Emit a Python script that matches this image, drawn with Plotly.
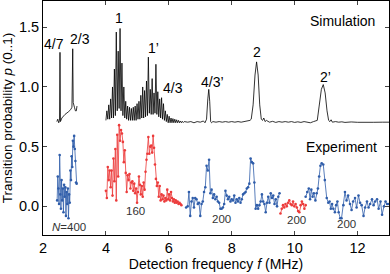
import plotly.graph_objects as go

# ---------------- Simulation (offset curve) ----------------
sim_a_f = [2.44, 2.47, 2.50, 2.525, 2.54, 2.555, 2.60, 2.70, 2.80, 2.88, 2.92, 2.945, 2.96, 2.975, 3.00, 3.03, 3.06, 3.08]
sim_a_p = [0.71, 0.73, 0.70, 0.72, 1.29, 0.71, 0.74, 0.77, 0.79, 0.81, 0.83, 1.32, 0.87, 0.84, 0.83, 0.80, 0.80, 0.84]

sim_b_f = [4.00, 4.03, 4.06, 4.09, 4.12, 4.15, 4.18, 4.21, 4.24, 4.27, 4.30, 4.33, 4.36, 4.39, 4.42,
           4.45, 4.48, 4.51, 4.54, 4.57, 4.60, 4.63, 4.66, 4.69, 4.72, 4.75, 4.78, 4.81, 4.84, 4.87,
           4.90, 4.93, 4.96, 4.99, 5.02, 5.05, 5.08, 5.11, 5.14, 5.17, 5.20, 5.23, 5.26, 5.29, 5.32,
           5.35, 5.38, 5.41, 5.44, 5.47, 5.50, 5.53, 5.56, 5.59, 5.62, 5.65, 5.68, 5.71, 5.74, 5.77,
           5.80, 5.83, 5.86, 5.89, 5.92, 5.95, 5.98, 6.01, 6.04, 6.07, 6.10, 6.13, 6.16, 6.19, 6.22,
           6.25, 6.28, 6.31, 6.34, 6.37, 6.40, 6.43, 6.46, 6.49,
           6.60, 6.70, 6.80, 6.90, 7.00, 7.10, 7.15, 7.20, 7.24, 7.27, 7.30, 7.33, 7.36, 7.40, 7.50,
           7.60, 7.70, 7.80, 7.90, 8.00, 8.10, 8.20, 8.30, 8.40, 8.50, 8.58, 8.62, 8.68, 8.74, 8.79,
           8.84, 8.89, 8.94, 8.98, 9.02, 9.06, 9.10, 9.20, 9.30, 9.40, 9.50, 9.60, 9.70, 9.80, 9.90,
           10.00, 10.10, 10.20, 10.30, 10.40, 10.50, 10.60, 10.68, 10.72, 10.78, 10.85, 10.91, 10.97, 11.03, 11.08,
           11.12, 11.16, 11.20, 11.30, 11.40, 11.50, 11.60, 11.80, 12.00, 12.20, 12.50, 12.80, 13.00]
sim_b_p = [0.72, 0.80, 0.73, 0.85, 0.73, 0.90, 0.74, 1.00, 0.74, 1.15, 0.76, 1.46, 0.80, 1.30, 0.82,
           1.49, 0.80, 1.20, 0.76, 1.00, 0.74, 0.88, 0.73, 0.84, 0.72, 0.83, 0.72, 0.82, 0.72, 0.83,
           0.72, 0.84, 0.72, 0.86, 0.73, 0.88, 0.73, 0.93, 0.74, 1.00, 0.74, 0.97, 0.75, 1.05, 0.76,
           1.25, 0.78, 0.98, 0.77, 1.07, 0.77, 0.95, 0.78, 1.19, 0.77, 0.96, 0.75, 0.90, 0.74, 0.91,
           0.73, 0.86, 0.72, 0.80, 0.71, 0.77, 0.70, 0.755, 0.70, 0.74, 0.70, 0.735, 0.70, 0.73, 0.70,
           0.725, 0.70, 0.72, 0.70, 0.715, 0.70, 0.712, 0.702, 0.71,
           0.705, 0.71, 0.70, 0.71, 0.705, 0.715, 0.70, 0.73, 0.90, 0.98, 0.88, 0.71, 0.70, 0.71, 0.705,
           0.71, 0.705, 0.71, 0.705, 0.71, 0.705, 0.71, 0.705, 0.71, 0.72, 0.72, 0.73, 0.85, 1.10, 1.21,
           1.10, 0.85, 0.73, 0.72, 0.74, 0.71, 0.72, 0.705, 0.712, 0.703, 0.71, 0.705, 0.71, 0.705, 0.71,
           0.703, 0.708, 0.703, 0.71, 0.705, 0.70, 0.71, 0.72, 0.72, 0.84, 0.98, 1.02, 0.95, 0.80, 0.72,
           0.71, 0.725, 0.705, 0.71, 0.705, 0.708, 0.703, 0.707, 0.704, 0.706, 0.704, 0.705, 0.705]

# ---------------- Experiment ----------------
exp1_f = [2.45, 2.47, 2.49, 2.51, 2.53, 2.55, 2.57, 2.59, 2.61, 2.63, 2.65, 2.67, 2.69, 2.71, 2.73, 2.75,
          2.77, 2.79, 2.81, 2.83, 2.85, 2.87, 2.89, 2.91, 2.93, 2.95, 2.97, 2.99, 3.01, 3.03, 3.05, 3.07]
exp1_p = [0.05, 0.25, 0.15, 0.02, 0.43, 0.10, -0.02, 0.22, 0.05, 0.15, -0.05, 0.18, 0.08, 0.16, -0.08, 0.12,
          0.02, 0.15, -0.10, 0.10, 0.03, 0.30, 0.22, 0.42, 0.33, 0.55, 0.50, 0.59, 0.48, 0.38, 0.20, 0.19]

exp2_f = [4.00, 4.03, 4.06, 4.09, 4.12, 4.15, 4.18, 4.21, 4.24, 4.27, 4.30, 4.33, 4.36, 4.39, 4.42, 4.45,
          4.48, 4.51, 4.54, 4.57, 4.60, 4.63, 4.66, 4.69, 4.72, 4.75, 4.78, 4.81, 4.84, 4.87, 4.90, 4.93,
          4.96, 4.99, 5.02, 5.05, 5.08, 5.11, 5.14, 5.17, 5.20, 5.23, 5.26, 5.29, 5.32, 5.35, 5.38, 5.41,
          5.44, 5.47, 5.50, 5.53, 5.56, 5.59, 5.62, 5.65, 5.68, 5.71, 5.74, 5.77, 5.80, 5.83, 5.86, 5.89,
          5.92, 5.95, 5.98, 6.01, 6.04, 6.07, 6.10, 6.13, 6.16, 6.19, 6.22, 6.25, 6.28, 6.31, 6.34, 6.37, 6.40]
exp2_p = [0.13, 0.07, 0.33, 0.22, 0.30, 0.16, 0.30, 0.09, 0.40, 0.21, 0.48, 0.05, 0.60, 0.25, 0.68, 0.55,
          0.64, 0.61, 0.54, 0.37, 0.47, 0.28, 0.12, 0.26, 0.22, 0.27, 0.15, 0.20, 0.21, 0.13, 0.19, 0.11,
          0.15, 0.03, 0.12, 0.25, 0.18, 0.10, 0.17, 0.08, 0.20, 0.14, 0.29, 0.39, 0.44, 0.58, 0.44, 0.50,
          0.51, 0.45, 0.59, 0.49, 0.35, 0.23, 0.17, 0.20, 0.08, 0.17, 0.05, 0.10, 0.06, 0.09, 0.04, 0.07,
          0.05, 0.14, 0.06, 0.10, 0.05, 0.12, 0.07, 0.04, 0.06, 0.03, 0.05, 0.03, 0.04, 0.02, 0.03, 0.02, 0.01]

exp3_f = [6.55, 6.60, 6.64, 6.68, 6.72, 6.76, 6.80, 6.84, 6.88, 6.92, 6.96, 7.00, 7.04, 7.08, 7.12, 7.16,
          7.20, 7.24, 7.28, 7.32, 7.36, 7.40, 7.44, 7.48, 7.52, 7.56, 7.60, 7.64, 7.68, 7.72, 7.76, 7.80,
          7.84, 7.88, 7.92, 7.96, 8.00, 8.04, 8.08, 8.12, 8.16, 8.20, 8.24, 8.28, 8.32, 8.36, 8.40, 8.44,
          8.48, 8.52, 8.56, 8.60, 8.64, 8.68, 8.72, 8.76, 8.80, 8.84, 8.88, 8.92, 8.96, 9.00, 9.04, 9.08,
          9.12, 9.16, 9.20, 9.24, 9.28, 9.32, 9.36, 9.40, 9.44, 9.48, 9.52]
exp3_p = [-0.01, 0.00, 0.12, -0.08, 0.04, 0.07, -0.01, 0.07, 0.06, 0.02, 0.03, -0.08, 0.02, 0.04, 0.12, 0.16,
          0.34, 0.30, 0.39, 0.11, 0.14, 0.07, 0.10, 0.06, 0.08, 0.04, 0.03, -0.02, -0.02, -0.01, 0.02, 0.13,
          0.09, 0.06, 0.08, 0.04, 0.06, 0.05, 0.09, 0.03, 0.06, 0.04, 0.07, 0.03, 0.06, 0.10, 0.11, 0.12,
          0.15, 0.16, 0.19, 0.40, 0.37, 0.36, 0.20, -0.02, 0.01, -0.02, 0.01, 0.04, 0.10, 0.04, 0.02, -0.05,
          0.03, 0.08, 0.03, 0.11, 0.07, 0.09, 0.02, 0.06, 0.00, 0.08, 0.11]

exp4_f = [9.55, 9.59, 9.63, 9.67, 9.71, 9.75, 9.79, 9.83, 9.87, 9.91, 9.95, 9.99, 10.03, 10.07, 10.11,
          10.15, 10.19, 10.23, 10.27, 10.31, 10.35]
exp4_p = [-0.06, -0.02, 0.01, -0.01, 0.02, 0.00, 0.03, 0.05, 0.02, 0.01, 0.04, 0.00, 0.02, -0.01, -0.04,
          -0.05, 0.01, 0.04, 0.02, -0.02, 0.01]

exp5_f = [10.35, 10.40, 10.45, 10.49, 10.53, 10.57, 10.61, 10.66, 10.70, 10.74, 10.78, 10.82, 10.86, 10.91,
          10.96, 11.02, 11.07, 11.11, 11.15, 11.19, 11.23, 11.28, 11.32, 11.36, 11.40, 11.45, 11.49, 11.55,
          11.60, 11.65, 11.70, 11.76, 11.81, 11.86, 11.92, 11.97, 12.03, 12.08, 12.13, 12.19, 12.24, 12.30,
          12.35, 12.40, 12.46, 12.51, 12.56, 12.62, 12.67, 12.73, 12.78, 12.84, 12.89, 12.94, 13.00]
exp5_p = [0.08, 0.12, 0.15, 0.06, 0.14, 0.08, 0.11, 0.05, 0.11, 0.15, 0.25, 0.34, 0.36, 0.35,
          0.22, 0.07, 0.03, 0.04, -0.02, 0.02, -0.02, -0.05, 0.01, 0.04, -0.05, -0.10, -0.10, 0.01,
          0.12, 0.05, 0.09, 0.02, -0.03, 0.04, 0.07, -0.01, 0.09, 0.03, 0.01, -0.08, -0.01, 0.04,
          -0.01, 0.02, 0.06, 0.01, 0.04, 0.06, -0.02, 0.04, -0.07, 0.00, 0.04, 0.02, 0.02]

# labels
peak_labels = ["4/7", "2/3", "1", "1\u2019", "4/3", "4/3\u2019", "2", "2\u2019"]
peak_label_f = [2.34, 3.17, 4.42, 5.50, 6.13, 7.40, 8.79, 10.99]
peak_label_p = [1.36, 1.40, 1.58, 1.33, 0.99, 1.04, 1.29, 1.08]

count_labels = ["<i>N</i>=400", "160", "200", "200", "200"]
count_label_f = [2.83, 4.93, 7.69, 10.06, 11.66]
count_label_p = [-0.17, -0.04, -0.11, -0.115, -0.15]

BLUE = "#2F5DAA"
RED = "#EC3B3B"
FONT = "Liberation Sans, Arial, sans-serif"

fig = go.Figure()

for f, p in [(sim_a_f, sim_a_p), (sim_b_f, sim_b_p)]:
    fig.add_trace(go.Scatter(x=f, y=p, mode="lines", line=dict(color="black", width=0.8),
                             showlegend=False, hoverinfo="skip"))

for f, p, c in [(exp1_f, exp1_p, BLUE), (exp2_f, exp2_p, RED), (exp3_f, exp3_p, BLUE),
                (exp4_f, exp4_p, RED), (exp5_f, exp5_p, BLUE)]:
    fig.add_trace(go.Scatter(x=f, y=p, mode="lines+markers",
                             line=dict(color=c, width=0.8),
                             marker=dict(color=c, size=2.6),
                             showlegend=False, hoverinfo="skip"))

for t, x, y in zip(peak_labels, peak_label_f, peak_label_p):
    fig.add_annotation(x=x, y=y, text=t, showarrow=False,
                       font=dict(family=FONT, size=14, color="black"))

for t, x, y in zip(count_labels, count_label_f, count_label_p):
    fig.add_annotation(x=x, y=y, text=t, showarrow=False,
                       font=dict(family=FONT, size=11.5, color="#333333"))

fig.add_annotation(x=12.62, y=1.55, text="Simulation", showarrow=False, xanchor="right",
                   font=dict(family=FONT, size=14, color="black"))
fig.add_annotation(x=12.67, y=0.50, text="Experiment", showarrow=False, xanchor="right",
                   font=dict(family=FONT, size=14, color="black"))

fig.update_layout(
    width=390, height=274,
    margin=dict(l=43, r=1, t=1, b=39),
    paper_bgcolor="white", plot_bgcolor="white",
    font=dict(family=FONT, size=14.5, color="black"),
    xaxis=dict(range=[2, 13], tickvals=[2, 4, 6, 8, 10, 12], ticks="inside", ticklen=4,
               showline=True, linecolor="black", linewidth=1, mirror="ticks",
               showgrid=False, zeroline=False,
               title=dict(text="Detection frequency <i>f</i> (MHz)", standoff=3,
                          font=dict(size=14))),
    yaxis=dict(range=[-0.24, 1.72], tickvals=[0, 0.5, 1.0, 1.5], ticktext=["0.0", "0.5", "1.0", "1.5"],
               ticks="inside", ticklen=4,
               showline=True, linecolor="black", linewidth=1, mirror="ticks",
               showgrid=False, zeroline=False,
               title=dict(text="Transition probability <i>p</i> (0..1)", standoff=3,
                          font=dict(size=13.5))),
)

fig.write_html("out.html", config={"displayModeBar": False},
               post_script="document.body.style.margin='0';document.body.style.overflow='hidden';")
